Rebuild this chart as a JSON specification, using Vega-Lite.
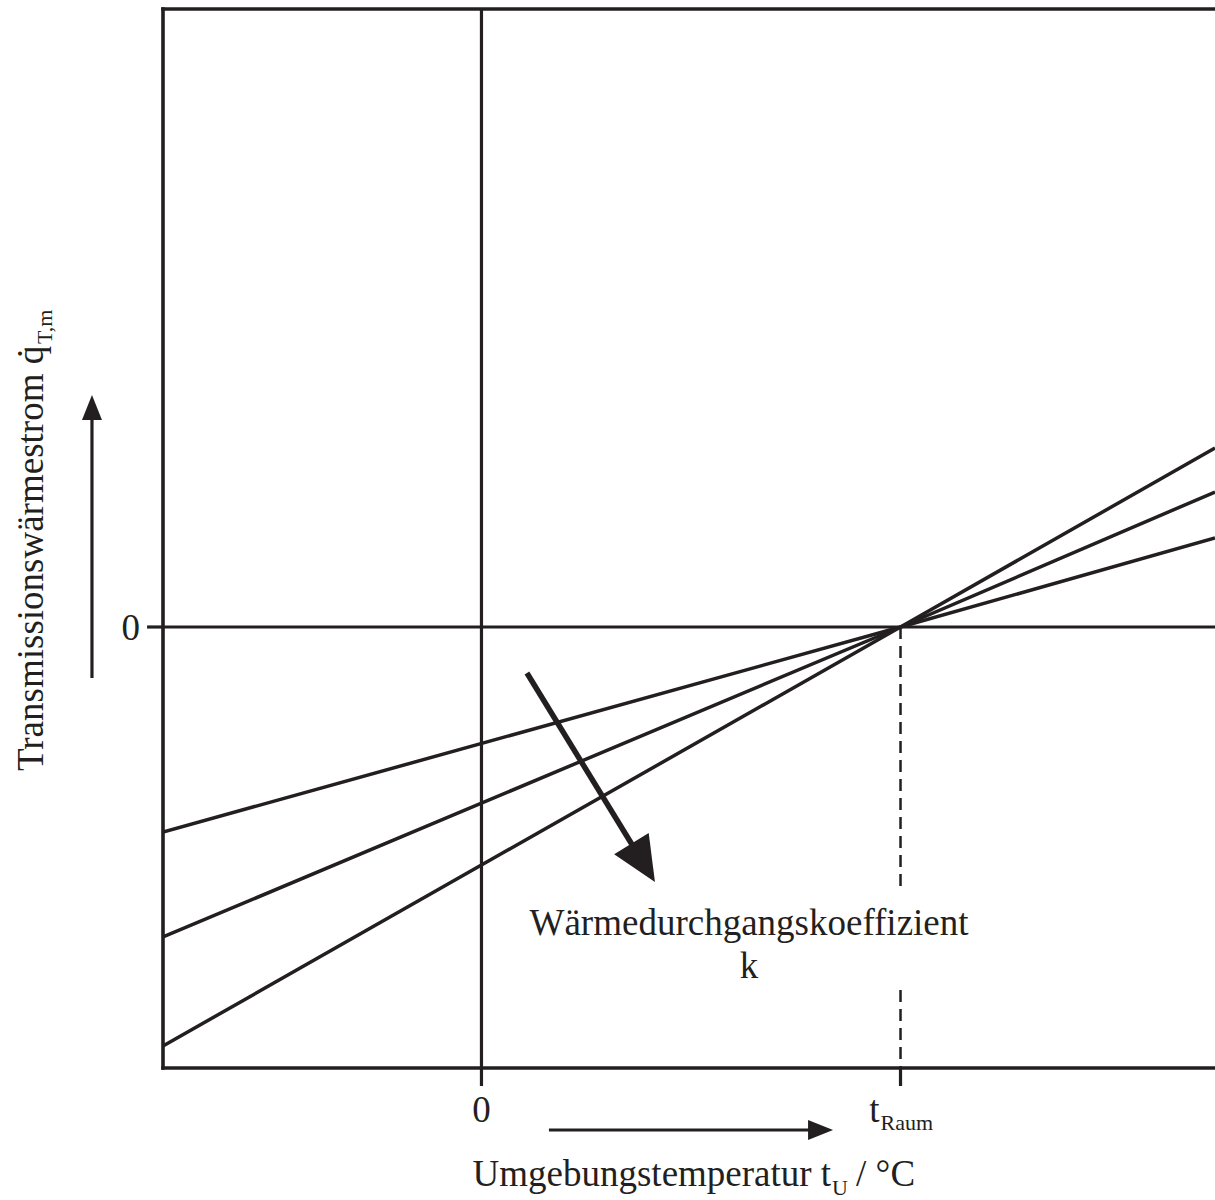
{
  "$schema": "https://vega.github.io/schema/vega-lite/v6.json",
  "width": 1052,
  "height": 1059,
  "autosize": "none",
  "padding": {"left": 163, "top": 9, "right": 0, "bottom": 132},
  "background": "white",
  "config": {"view": {"stroke": null}},
  "datasets": {
    "frameV": [{"t": -15.2}],
    "frameH": [{"q": -44.1}, {"q": 61.8}],
    "zeroV": [{"t": 0}],
    "zeroH": [{"q": 0}],
    "xticks": [{"t": 0, "q": -44.1, "q2": -45.9}, {"t": 20, "q": -44.1, "q2": -45.9}],
    "yticks": [{"t": -15.2, "t2": -15.96, "q": 0}],
    "lines": [
      {"k": "a", "t": -15.2, "q": -20.5}, {"k": "a", "t": 20, "q": 0}, {"k": "a", "t": 35.01, "q": 8.9},
      {"k": "b", "t": -15.2, "q": -31.0}, {"k": "b", "t": 20, "q": 0}, {"k": "b", "t": 35.01, "q": 13.5},
      {"k": "c", "t": -15.2, "q": -41.9}, {"k": "c", "t": 20, "q": 0}, {"k": "c", "t": 35.01, "q": 17.9}
    ],
    "dashes": [{"t": 20, "q": 0, "q2": -26.6}, {"t": 20, "q": -36.3, "q2": -44.1}],
    "diagShaft": [{"t": 2.17, "q": -4.6, "t2": 7.52, "q2": -22.9}],
    "axisShafts": [{"t": -18.59, "q": -5.1, "t2": -18.59, "q2": 21.5}, {"t": 3.22, "q": -50.3, "t2": 15.92, "q2": -50.3}],
    "headDiag": [{"t": 8.28, "q": -25.5}],
    "headUp": [{"t": -18.59, "q": 23.2}],
    "headRight": [{"t": 16.78, "q": -50.3}],
    "txtCenter": [
      {"t": 0, "q": -49.5, "label": "0"},
      {"t": 12.77, "q": -30.8, "label": "Wärmedurchgangskoeffizient"},
      {"t": 12.77, "q": -35.1, "label": "k"}
    ],
    "txtRight": [
      {"t": -16.3, "q": -1.3, "label": "0"},
      {"t": 16.69, "q": -55.9, "label": "Umgebungstemperatur t"},
      {"t": 19.0, "q": -49.5, "label": "t"}
    ],
    "txtLeft": [{"t": 17.88, "q": -55.9, "label": "/ °C"}],
    "txtSub": [{"t": 16.73, "q": -56.8, "label": "U"}, {"t": 19.05, "q": -50.3, "label": "Raum"}],
    "txtRot": [{"t": -20.93, "q": -14.4, "label": "Transmissionswärmestrom q̇"}],
    "txtRotSub": [{"t": -20.5, "q": 28.3, "label": "T,m"}]
  },
  "layer": [
    {
      "data": {"name": "frameV"},
      "mark": {"type": "rule", "color": "#231f20", "strokeWidth": 3.6, "strokeCap": "square"},
      "encoding": {
        "x": {"field": "t", "type": "quantitative", "axis": null, "scale": {"domain": [-15.2, 35.01], "zero": false, "nice": false}}
      }
    },
    {
      "data": {"name": "frameH"},
      "mark": {"type": "rule", "color": "#231f20", "strokeWidth": 3.6, "strokeCap": "square"},
      "encoding": {
        "y": {"field": "q", "type": "quantitative", "axis": null, "scale": {"domain": [-44.1, 61.8], "zero": false, "nice": false}}
      }
    },
    {
      "data": {"name": "zeroV"},
      "mark": {"type": "rule", "color": "#231f20", "strokeWidth": 3.2},
      "encoding": {"x": {"field": "t", "type": "quantitative", "axis": null}}
    },
    {
      "data": {"name": "zeroH"},
      "mark": {"type": "rule", "color": "#231f20", "strokeWidth": 3.2},
      "encoding": {"y": {"field": "q", "type": "quantitative", "axis": null}}
    },
    {
      "data": {"name": "xticks"},
      "mark": {"type": "rule", "color": "#231f20", "strokeWidth": 3.2},
      "encoding": {
        "x": {"field": "t", "type": "quantitative", "axis": null},
        "y": {"field": "q", "type": "quantitative", "axis": null},
        "y2": {"field": "q2"}
      }
    },
    {
      "data": {"name": "yticks"},
      "mark": {"type": "rule", "color": "#231f20", "strokeWidth": 3.2},
      "encoding": {
        "x": {"field": "t", "type": "quantitative", "axis": null},
        "x2": {"field": "t2"},
        "y": {"field": "q", "type": "quantitative", "axis": null}
      }
    },
    {
      "data": {"name": "dashes"},
      "mark": {"type": "rule", "color": "#231f20", "strokeWidth": 2.5, "strokeDash": [12, 7]},
      "encoding": {
        "x": {"field": "t", "type": "quantitative", "axis": null},
        "y": {"field": "q", "type": "quantitative", "axis": null},
        "y2": {"field": "q2"}
      }
    },
    {
      "data": {"name": "lines"},
      "mark": {"type": "line", "color": "#231f20", "strokeWidth": 3.5, "clip": true},
      "encoding": {
        "x": {"field": "t", "type": "quantitative", "axis": null},
        "y": {"field": "q", "type": "quantitative", "axis": null},
        "detail": {"field": "k"}
      }
    },
    {
      "data": {"name": "diagShaft"},
      "mark": {"type": "rule", "color": "#231f20", "strokeWidth": 5.5},
      "encoding": {
        "x": {"field": "t", "type": "quantitative", "axis": null},
        "y": {"field": "q", "type": "quantitative", "axis": null},
        "x2": {"field": "t2"}, "y2": {"field": "q2"}
      }
    },
    {
      "data": {"name": "axisShafts"},
      "mark": {"type": "rule", "color": "#231f20", "strokeWidth": 3.2},
      "encoding": {
        "x": {"field": "t", "type": "quantitative", "axis": null},
        "y": {"field": "q", "type": "quantitative", "axis": null},
        "x2": {"field": "t2"}, "y2": {"field": "q2"}
      }
    },
    {
      "data": {"name": "headDiag"},
      "mark": {"type": "point", "shape": "M0,0L0.45,1L-0.45,1Z", "filled": true, "size": 8100, "angle": 148.5, "color": "#231f20", "opacity": 1, "strokeWidth": 0},
      "encoding": {
        "x": {"field": "t", "type": "quantitative", "axis": null},
        "y": {"field": "q", "type": "quantitative", "axis": null}
      }
    },
    {
      "data": {"name": "headUp"},
      "mark": {"type": "point", "shape": "M0,0L0.4,1L-0.4,1Z", "filled": true, "size": 2500, "angle": 0, "color": "#231f20", "opacity": 1, "strokeWidth": 0},
      "encoding": {
        "x": {"field": "t", "type": "quantitative", "axis": null},
        "y": {"field": "q", "type": "quantitative", "axis": null}
      }
    },
    {
      "data": {"name": "headRight"},
      "mark": {"type": "point", "shape": "M0,0L0.4,1L-0.4,1Z", "filled": true, "size": 2500, "angle": 90, "color": "#231f20", "opacity": 1, "strokeWidth": 0},
      "encoding": {
        "x": {"field": "t", "type": "quantitative", "axis": null},
        "y": {"field": "q", "type": "quantitative", "axis": null}
      }
    },
    {
      "data": {"name": "txtCenter"},
      "mark": {"type": "text", "font": "Liberation Serif", "fontSize": 37, "align": "center", "baseline": "alphabetic", "color": "#231f20"},
      "encoding": {
        "x": {"field": "t", "type": "quantitative", "axis": null},
        "y": {"field": "q", "type": "quantitative", "axis": null},
        "text": {"field": "label"}
      }
    },
    {
      "data": {"name": "txtRight"},
      "mark": {"type": "text", "font": "Liberation Serif", "fontSize": 37, "align": "right", "baseline": "alphabetic", "color": "#231f20"},
      "encoding": {
        "x": {"field": "t", "type": "quantitative", "axis": null},
        "y": {"field": "q", "type": "quantitative", "axis": null},
        "text": {"field": "label"}
      }
    },
    {
      "data": {"name": "txtLeft"},
      "mark": {"type": "text", "font": "Liberation Serif", "fontSize": 37, "align": "left", "baseline": "alphabetic", "color": "#231f20"},
      "encoding": {
        "x": {"field": "t", "type": "quantitative", "axis": null},
        "y": {"field": "q", "type": "quantitative", "axis": null},
        "text": {"field": "label"}
      }
    },
    {
      "data": {"name": "txtSub"},
      "mark": {"type": "text", "font": "Liberation Serif", "fontSize": 22, "align": "left", "baseline": "alphabetic", "color": "#231f20"},
      "encoding": {
        "x": {"field": "t", "type": "quantitative", "axis": null},
        "y": {"field": "q", "type": "quantitative", "axis": null},
        "text": {"field": "label"}
      }
    },
    {
      "data": {"name": "txtRot"},
      "mark": {"type": "text", "font": "Liberation Serif", "fontSize": 37, "align": "left", "baseline": "alphabetic", "angle": 270, "color": "#231f20"},
      "encoding": {
        "x": {"field": "t", "type": "quantitative", "axis": null},
        "y": {"field": "q", "type": "quantitative", "axis": null},
        "text": {"field": "label"}
      }
    },
    {
      "data": {"name": "txtRotSub"},
      "mark": {"type": "text", "font": "Liberation Serif", "fontSize": 22, "align": "left", "baseline": "alphabetic", "angle": 270, "color": "#231f20"},
      "encoding": {
        "x": {"field": "t", "type": "quantitative", "axis": null},
        "y": {"field": "q", "type": "quantitative", "axis": null},
        "text": {"field": "label"}
      }
    }
  ]
}
